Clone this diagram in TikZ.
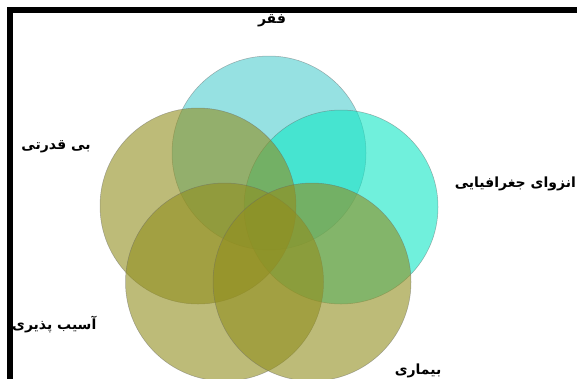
\documentclass[tikz,border=0pt]{standalone}
\usepackage{fontspec}
\newfontfamily\arabicfont[Script=Arabic]{DejaVu Sans}
\TeXXeTstate=1
\definecolor{cyanA}{RGB}{80,205,208}
\definecolor{cyanB}{RGB}{17,230,197}
\definecolor{oliveA}{RGB}{145,142,30}
\begin{document}
\begin{tikzpicture}[x=1pt,y=-1pt,
  venn/.style={circle,draw=black!60,draw opacity=0.5,line width=0.5pt,fill opacity=0.6,text opacity=1,inner sep=0pt},
  lbl/.style={font=\arabicfont\bfseries\fontsize{14}{16}\selectfont,inner sep=0pt}]
\useasboundingbox (0,0) rectangle (577,378);
\clip (0,0) rectangle (577,378);
\fill[white] (0,0) rectangle (577,378);
\draw[line width=6pt] (10,400) -- (10,10) -- (600,10);
\node[venn,fill=cyanA,minimum size=194pt] (faqr) at (269,153) {};
\node[venn,fill=cyanB,minimum size=194pt] (enzeva) at (341,207) {};
\node[venn,fill=oliveA,minimum size=196pt] (bighodrati) at (198,206) {};
\node[venn,fill=oliveA,minimum size=198pt] (asib) at (224.5,282) {};
\node[venn,fill=oliveA,minimum size=198pt] (bimari) at (312,282) {};
\node[lbl] (t1) at (272,21) {\beginR فقر\endR};
\node[lbl] (t2) at (56,147) {\beginR بی قدرتی\endR};
\node[lbl,anchor=east] (t3) at (576,184) {\beginR انزوای جغرافیایی\endR};
\node[lbl,anchor=west] (t4) at (12,325) {\beginR آسیب پذیری\endR};
\node[lbl] (t5) at (418,371) {\beginR بیماری\endR};
\end{tikzpicture}
\end{document}
